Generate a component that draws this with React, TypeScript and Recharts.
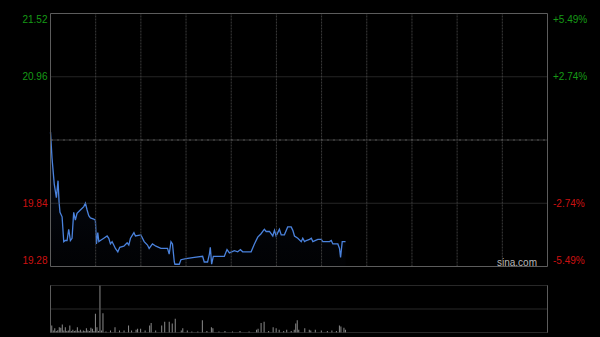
import React from 'react';
import { ComposedChart, Area, Line, XAxis, YAxis, ReferenceLine, BarChart, Bar } from 'recharts';

// Minute index since open (HK session, 330 minutes) and price
const minutes = [0, 1, 2.5, 3.9, 5, 5.7, 6.3, 7.7, 8.8, 9.8, 11, 12.1, 13.2, 14.3, 15.4, 16.5, 17.6, 19.8, 22.1, 23.2, 24.3, 25.4, 26.5, 28.7, 29.8, 30.5, 31.4, 32.1, 33.1, 35.4, 37.6, 38.7, 39.8, 40.9, 42, 43.1, 44.7, 46, 48.7, 50.9, 52, 53.1, 55.4, 56.4, 60, 62.2, 64.4, 65.5, 67.7, 70, 73.3, 77.7, 78.8, 80, 81, 82.2, 82.6, 85.5, 86.6, 90, 95.5, 101, 102.1, 104.3, 105.5, 106.1, 107, 108.1, 115.4, 117.2, 118.8, 122.1, 124.3, 126.1, 127.6, 133.2, 135.4, 137.6, 139.8, 142, 143.2, 145.4, 147.6, 148.7, 149.8, 150.9, 152, 153.2, 155.3, 157.5, 159.8, 160.9, 162, 164.2, 166.5, 167.5, 168.7, 169.8, 172, 173.2, 174.2, 177.5, 179.8, 180.8, 185.3, 186.4, 187.5, 190.8, 191.9, 192.6, 193.7, 195.9];
const prices = [20.47, 20.24, 20.01, 19.89, 20.04, 19.85, 19.76, 19.72, 19.50, 19.51, 19.51, 19.61, 19.51, 19.53, 19.76, 19.69, 19.75, 19.78, 19.81, 19.84, 19.78, 19.73, 19.71, 19.70, 19.69, 19.48, 19.58, 19.50, 19.51, 19.53, 19.55, 19.53, 19.48, 19.50, 19.47, 19.44, 19.41, 19.45, 19.46, 19.49, 19.47, 19.53, 19.58, 19.55, 19.56, 19.50, 19.47, 19.44, 19.48, 19.46, 19.44, 19.44, 19.39, 19.50, 19.48, 19.32, 19.30, 19.30, 19.34, 19.35, 19.36, 19.37, 19.32, 19.32, 19.39, 19.45, 19.30, 19.37, 19.37, 19.43, 19.40, 19.42, 19.41, 19.43, 19.41, 19.41, 19.48, 19.54, 19.57, 19.61, 19.59, 19.59, 19.55, 19.60, 19.55, 19.58, 19.61, 19.56, 19.56, 19.63, 19.63, 19.60, 19.55, 19.53, 19.50, 19.53, 19.50, 19.51, 19.52, 19.53, 19.50, 19.52, 19.52, 19.50, 19.50, 19.51, 19.48, 19.48, 19.44, 19.36, 19.50, 19.50];

const volMinutes = [1, 2, 3, 4, 5, 6, 7, 8, 9, 10, 11, 12, 13, 14, 15, 16, 17, 18, 19, 20, 21, 22, 23, 24, 25, 26, 27, 28, 29, 30, 31, 32, 33, 34, 35, 37, 40, 43, 46, 49, 52, 54, 57, 58, 60, 63, 66, 67, 70, 74, 76, 79, 81, 83, 87, 88, 91, 94, 98, 101, 104, 107, 108, 112, 116, 121, 126, 132, 137, 138, 140, 142, 145, 148, 150, 152, 155, 157, 160, 162, 163, 164, 165, 169, 172, 173, 176, 180, 184, 187, 190, 192, 193, 195, 196];
const volumes = [15, 4, 9, 3, 5, 11, 10, 17, 4, 11, 3, 4, 15, 3, 6, 3, 4, 11, 3, 6, 2, 4, 3, 9, 4, 3, 10, 8, 3, 40, 11, 3, 100, 4, 41, 2, 4, 11, 4, 4, 15, 4, 6, 8, 8, 4, 15, 20, 4, 15, 23, 23, 19, 29, 4, 9, 4, 2, 2, 26, 3, 11, 9, 2, 3, 2, 3, 2, 6, 8, 20, 23, 3, 11, 9, 6, 3, 6, 3, 6, 19, 26, 6, 9, 6, 4, 6, 4, 3, 4, 3, 15, 13, 10, 6];

const prevClose = 20.4;
const priceMin = 19.28;
const priceMax = 21.52;
const pctMax = 5.49;
const priceTicks = [19.28, 19.84, 20.96, 21.52];
const pctTicks = [-5.49, -2.74, 2.74, 5.49];
const timeGrid = [30, 60, 90, 120, 150, 180, 210, 240, 270, 300];
const sessionMinutes = 330;

const priceData = minutes.map((m, i) => ({ m, p: prices[i], pct: ((prices[i] - prevClose) / prevClose) * 100 }));
const volData = volMinutes.map((m, i) => ({ m, v: volumes[i] }));

const GREEN = '#169a16';
const RED = '#cc1111';
const FONT = '"Liberation Sans", Arial, sans-serif';

const LeftTick = (props: any) => {
  const { y, payload } = props;
  const v = payload.value;
  let dy = 0;
  if (v === priceMax) dy = 6;
  if (v === priceMin) dy = -6;
  return (
    <text x={47.5} y={y + dy} textAnchor="end" dominantBaseline="central" fill={v > prevClose ? GREEN : RED} fontSize={10} fontFamily={FONT}>
      {v.toFixed(2)}
    </text>
  );
};

const RightTick = (props: any) => {
  const { y, payload } = props;
  const v = payload.value;
  let dy = 0;
  if (v === pctMax) dy = 6;
  if (v === -pctMax) dy = -6;
  return (
    <text x={553} y={y + dy} textAnchor="start" dominantBaseline="central" fill={v > 0 ? GREEN : RED} fontSize={10} fontFamily={FONT}>
      {(v > 0 ? '+' : '') + v.toFixed(2) + '%'}
    </text>
  );
};

export default function App() {
  return (
    <div style={{ position: 'absolute', left: 0, top: 0, width: 600, height: 337, background: '#000', overflow: 'hidden' }}>
      <ComposedChart width={600} height={275} data={priceData} margin={{ top: 13.5, right: 0, bottom: 8.5, left: 0 }}>
        <defs>
          <linearGradient id="areaFill" x1="0" y1="0" x2="0" y2="1">
            <stop offset="0%" stopColor="#1b2d55" stopOpacity={0.55} />
            <stop offset="100%" stopColor="#0a1020" stopOpacity={0.2} />
          </linearGradient>
        </defs>
        <XAxis dataKey="m" type="number" domain={[0, sessionMinutes]} hide />
        <YAxis yAxisId="l" orientation="left" width={50.5} domain={[priceMin, priceMax]} ticks={priceTicks} axisLine={false} tickLine={false} tick={<LeftTick />} interval={0} />
        <YAxis yAxisId="r" orientation="right" width={52.5} domain={[-pctMax, pctMax]} allowDataOverflow ticks={pctTicks} axisLine={false} tickLine={false} tick={<RightTick />} interval={0} />
        {timeGrid.map((t) => (
          <ReferenceLine key={t} yAxisId="l" x={t} stroke="#3c3c3c" strokeDasharray="2 1" />
        ))}
        <ReferenceLine yAxisId="l" y={20.96} stroke="#4a4a4a" strokeDasharray="1 1" />
        <ReferenceLine yAxisId="l" y={19.84} stroke="#4a4a4a" strokeDasharray="1 1" />
        <ReferenceLine yAxisId="l" y={prevClose} stroke="#6a6a6a" strokeDasharray="3 1 1 1" />
        <ReferenceLine yAxisId="l" y={priceMax} stroke="#5c5c5c" />
        <ReferenceLine yAxisId="l" y={priceMin} stroke="#5c5c5c" />
        <ReferenceLine yAxisId="l" x={0} stroke="#5c5c5c" />
        <ReferenceLine yAxisId="l" x={sessionMinutes} stroke="#5c5c5c" />
        <Area yAxisId="l" type="linear" dataKey="p" stroke="#4a82dd" strokeWidth={1.3} fill="url(#areaFill)" dot={false} activeDot={false} isAnimationActive={false} />
        <Line yAxisId="r" type="linear" dataKey="pct" stroke="none" dot={false} activeDot={false} isAnimationActive={false} />
        <text x={537} y={262} textAnchor="end" dominantBaseline="central" fill="#b8b8b8" fontSize={10} fontFamily={FONT}>sina.com</text>
      </ComposedChart>
      <BarChart width={600} height={62} data={volData} margin={{ top: 10.5, right: 52.5, bottom: 4.5, left: 50.5 }}>
        <XAxis dataKey="m" type="number" domain={[0, sessionMinutes]} hide />
        <YAxis domain={[0, 100]} hide />
        <ReferenceLine y={100} stroke="#505050" strokeDasharray="1 1" />
        <ReferenceLine y={50} stroke="#505050" strokeDasharray="1 1" />
        <ReferenceLine y={0} stroke="#505050" strokeDasharray="1 1" />
        <ReferenceLine x={0} stroke="#5c5c5c" />
        <ReferenceLine x={sessionMinutes} stroke="#5c5c5c" />
        <Bar dataKey="v" fill="#8a8a8a" barSize={1} isAnimationActive={false} />
      </BarChart>
    </div>
  );
}
